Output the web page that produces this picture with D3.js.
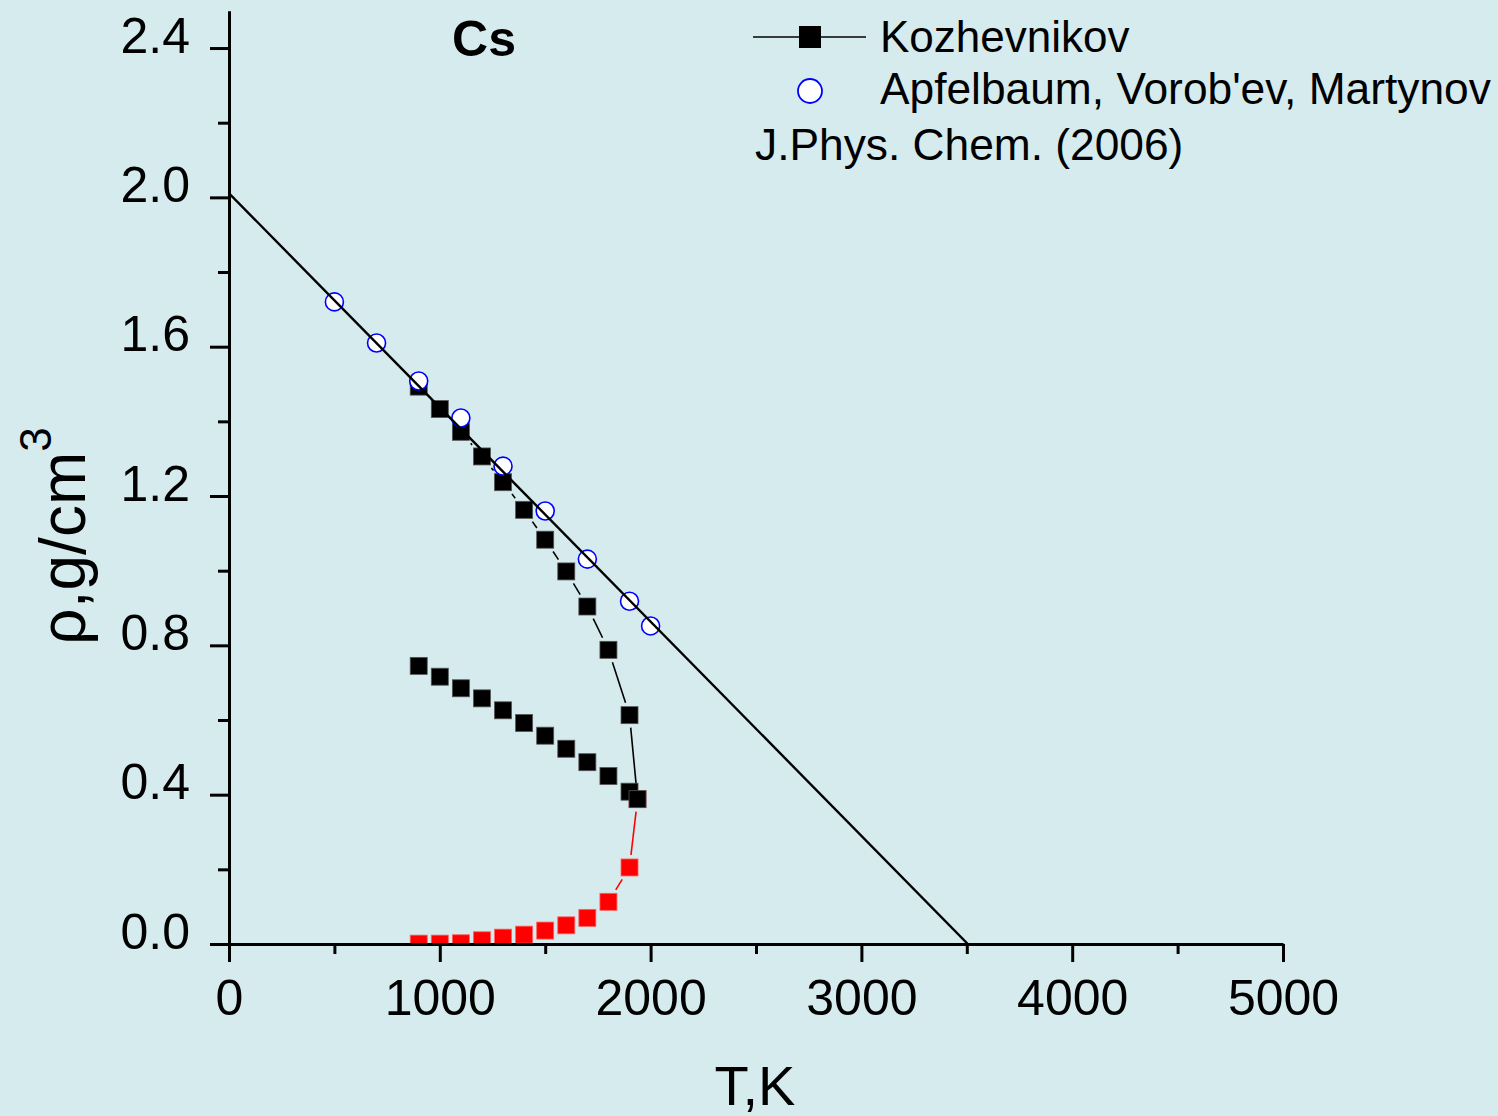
<!DOCTYPE html>
<html><head><meta charset="utf-8">
<script src="https://cdn.jsdelivr.net/npm/d3@7"></script>
<style>
html,body{margin:0;padding:0;background:#d6ebee;}
svg{display:block;}
text{font-family:"Liberation Sans",Arial,sans-serif;fill:#000;}
</style></head>
<body>
<svg id="chart" width="1498" height="1116"></svg>
<script>
// ---- data ----
const upperT   = [900,1000,1100,1200,1300,1400,1500,1600,1700,1800,1900,1938];
const upperRho = [1.493,1.433,1.372,1.306,1.237,1.163,1.083,0.998,0.904,0.788,0.613,0.388];
const lowerT   = [900,1000,1100,1200,1300,1400,1500,1600,1700,1800,1900];
const lowerRho = [0.745,0.716,0.685,0.658,0.626,0.592,0.558,0.523,0.487,0.450,0.408];
const vaporT   = [900,1000,1100,1200,1300,1400,1500,1600,1700,1800,1900,1938];
const vaporRho = [0.001,0.001,0.002,0.010,0.017,0.025,0.036,0.050,0.070,0.113,0.205,0.388];
const apfT     = [500,700,900,1100,1300,1500,1700,1900,2000];
const apfRho   = [1.720,1.610,1.508,1.409,1.280,1.160,1.031,0.918,0.852];
const fitT     = [0,3505];
const fitRho   = [2.011,0];
const xMajor = [0,1000,2000,3000,4000,5000];
const xMinor = [500,1500,2500,3500,4500];
const yMajor = [0,0.4,0.8,1.2,1.6,2.0,2.4];
const yMinor = [0.2,0.6,1.0,1.4,1.8,2.2];
const title = "Cs";
const legendLabels = ["Kozhevnikov","Apfelbaum, Vorob'ev, Martynov","J.Phys. Chem. (2006)"];

// ---- layout ----
const svg = d3.select("#chart");
const x = d3.scaleLinear().domain([0,5000]).range([229,1283]);
const y = d3.scaleLinear().domain([0,2.5]).range([944,10.7]);
const zip = (a,b)=>a.map((v,i)=>[v,b[i]]);

svg.append("defs").append("clipPath").attr("id","clip")
  .append("rect").attr("x",229).attr("y",0).attr("width",1054).attr("height",944);

const plot = svg.append("g").attr("clip-path","url(#clip)");

// segments with gaps around square symbols
function gappedSegments(pts, half, gap){
  const segs=[];
  for(let i=0;i<pts.length-1;i++){
    const x1=x(pts[i][0]), y1=y(pts[i][1]), x2=x(pts[i+1][0]), y2=y(pts[i+1][1]);
    const dx=x2-x1, dy=y2-y1, L=Math.hypot(dx,dy);
    const ux=dx/L, uy=dy/L;
    const t=half/Math.max(Math.abs(ux),Math.abs(uy))+gap;
    if(L>2*t) segs.push([x1+ux*t,y1+uy*t,x2-ux*t,y2-uy*t]);
  }
  return segs;
}
const SQ=17;
function drawBranchLine(pts,color){
  plot.selectAll(null).data(gappedSegments(pts,SQ/2,4)).enter().append("line")
    .attr("x1",d=>d[0]).attr("y1",d=>d[1]).attr("x2",d=>d[2]).attr("y2",d=>d[3])
    .attr("stroke",color).attr("stroke-width",1.6);
}
drawBranchLine(zip(upperT,upperRho),"#000");
drawBranchLine(zip(vaporT,vaporRho),"#ff0000");

function drawSquares(pts,fill,edge){
  plot.selectAll(null).data(pts).enter().append("rect")
    .attr("x",d=>x(d[0])-SQ/2).attr("y",d=>y(d[1])-SQ/2)
    .attr("width",SQ).attr("height",SQ)
    .attr("fill",fill).attr("stroke",edge).attr("stroke-width",0.8);
}
drawSquares(zip(vaporT,vaporRho),"#ff0000","#ff6060");
drawSquares(zip(lowerT,lowerRho),"#000","#555");
drawSquares(zip(upperT,upperRho),"#000","#555");

plot.selectAll(null).data(zip(apfT,apfRho)).enter().append("circle")
  .attr("cx",d=>x(d[0])).attr("cy",d=>y(d[1])).attr("r",9)
  .attr("fill","#fff").attr("stroke","#0000ff").attr("stroke-width",1.6);

plot.append("path").datum(zip(fitT,fitRho))
  .attr("d",d3.line().x(d=>x(d[0])).y(d=>y(d[1])))
  .attr("fill","none").attr("stroke","#000").attr("stroke-width",2.4);

// ---- axes ----
const xAxis = svg.append("g").attr("transform","translate(0,944)")
  .call(d3.axisBottom(x).tickValues(xMajor).tickSize(18).tickSizeOuter(0).tickFormat(d3.format("d")));
svg.append("g").attr("transform","translate(0,944)")
  .call(d3.axisBottom(x).tickValues(xMinor).tickSize(10).tickSizeOuter(0).tickFormat(""))
  .select(".domain").remove();
const yAxis = svg.append("g").attr("transform","translate(229,0)")
  .call(d3.axisLeft(y).tickValues(yMajor).tickSize(19).tickSizeOuter(0).tickFormat(d3.format(".1f")));
svg.append("g").attr("transform","translate(229,0)")
  .call(d3.axisLeft(y).tickValues(yMinor).tickSize(11).tickSizeOuter(0).tickFormat(""))
  .select(".domain").remove();

svg.selectAll(".domain, .tick line").attr("stroke","#000").attr("stroke-width",3);
xAxis.selectAll(".tick text").attr("y",71).attr("dy",0)
  .style("font-size","50px").style("font-family","'Liberation Sans',Arial,sans-serif");
yAxis.selectAll(".tick text").attr("x",-39).attr("dy",0).attr("y",4)
  .style("font-size","50px").style("font-family","'Liberation Sans',Arial,sans-serif");

// axis titles
svg.append("text").attr("x",755).attr("y",1105).attr("text-anchor","middle")
  .style("font-size","56px").text("T,K");
const yl = svg.append("text").attr("transform","translate(85,536) rotate(-90)")
  .attr("text-anchor","middle").style("font-size","64px");
yl.append("tspan").text("\u03c1,g/cm");
yl.append("tspan").attr("dy",-34).style("font-size","44px").text("3");

// title
svg.append("text").attr("x",484).attr("y",56).attr("text-anchor","middle")
  .style("font-size","50px").style("font-weight","bold").text(title);

// legend
const lg = svg.append("g");
lg.append("line").attr("x1",753).attr("x2",866).attr("y1",37).attr("y2",37)
  .attr("stroke","#000").attr("stroke-width",1.6);
lg.append("rect").attr("x",810-11).attr("y",37-11).attr("width",22).attr("height",22).attr("fill","#000");
lg.append("text").attr("x",880).attr("y",52).style("font-size","44px").text(legendLabels[0]);
lg.append("circle").attr("cx",810).attr("cy",91).attr("r",12)
  .attr("fill","#fff").attr("stroke","#0000ff").attr("stroke-width",1.8);
lg.append("text").attr("x",880).attr("y",104).style("font-size","44.3px").text(legendLabels[1]);
lg.append("text").attr("x",755).attr("y",160).style("font-size","44.3px").text(legendLabels[2]);
</script>
</body></html>
